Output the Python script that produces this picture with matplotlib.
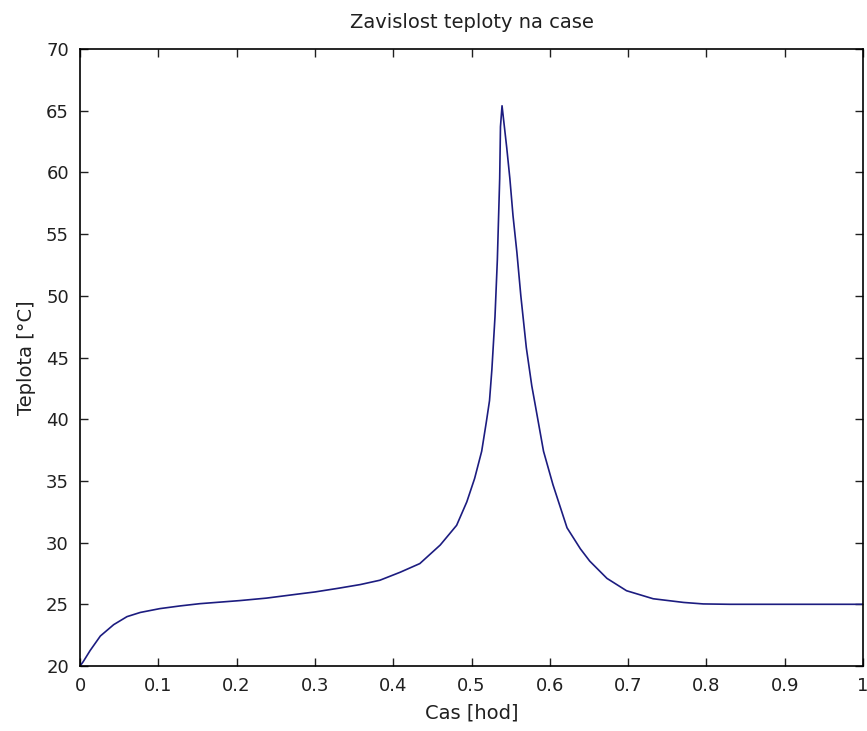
import numpy as np
import matplotlib
matplotlib.use("Agg")
import matplotlib.pyplot as plt

# cas [hod] a teplota [C]
cas = [0, 0.004, 0.013, 0.026, 0.043, 0.060, 0.077, 0.102, 0.128, 0.153,
       0.204, 0.238, 0.281, 0.30, 0.33, 0.358, 0.383, 0.409, 0.434, 0.460,
       0.481, 0.494, 0.504, 0.513, 0.519, 0.523, 0.526, 0.530, 0.533,
       0.536, 0.537, 0.539, 0.545, 0.549, 0.553, 0.558, 0.563, 0.570,
       0.577, 0.581, 0.592, 0.604, 0.622, 0.639, 0.651, 0.673, 0.698,
       0.732, 0.771, 0.796, 0.83, 0.9, 1.0]
teplota = [20.0, 20.34, 21.26, 22.43, 23.35, 24.0, 24.34, 24.65, 24.87, 25.05,
           25.3, 25.5, 25.85, 26.0, 26.3, 26.6, 26.95, 27.6, 28.3, 29.8,
           31.4, 33.3, 35.2, 37.4, 39.8, 41.5, 44.0, 48.3, 52.9,
           59.5, 63.7, 65.4, 62.0, 59.5, 56.5, 53.5, 50.0, 45.8,
           42.7, 41.3, 37.4, 34.7, 31.2, 29.5, 28.5, 27.1, 26.1,
           25.45, 25.15, 25.03, 25.0, 25.0, 25.0]

xticks = np.arange(0, 1.01, 0.1)
yticks = np.arange(20, 71, 5)

plt.rcParams['font.family'] = ['DejaVu Sans']
fig = plt.figure(figsize=(8.67, 7.31), dpi=100)
ax = fig.add_axes([80/867, 65/731, 783/867, 617/731])
ax.plot(cas, teplota, color='#1c1c80', linewidth=1.2)
ax.set_xlim(0, 1)
ax.set_ylim(20, 70)
ax.set_xticks(xticks)
ax.set_xticklabels(['0', '0.1', '0.2', '0.3', '0.4', '0.5', '0.6', '0.7', '0.8', '0.9', '1'])
ax.set_yticks(yticks)
ax.tick_params(direction='in', length=6, width=1, top=True, right=True,
               labelsize=13, colors='#202020', pad=8)
for s in ax.spines.values():
    s.set_linewidth(1.2)
ax.set_title('Zavislost teploty na case', fontsize=14, pad=15, color='#202020')
ax.set_xlabel('Cas [hod]', fontsize=14, labelpad=6, color='#202020')
ax.set_ylabel('Teplota [°C]', fontsize=14, labelpad=7, color='#202020')

fig.savefig('out.png', dpi=100)
